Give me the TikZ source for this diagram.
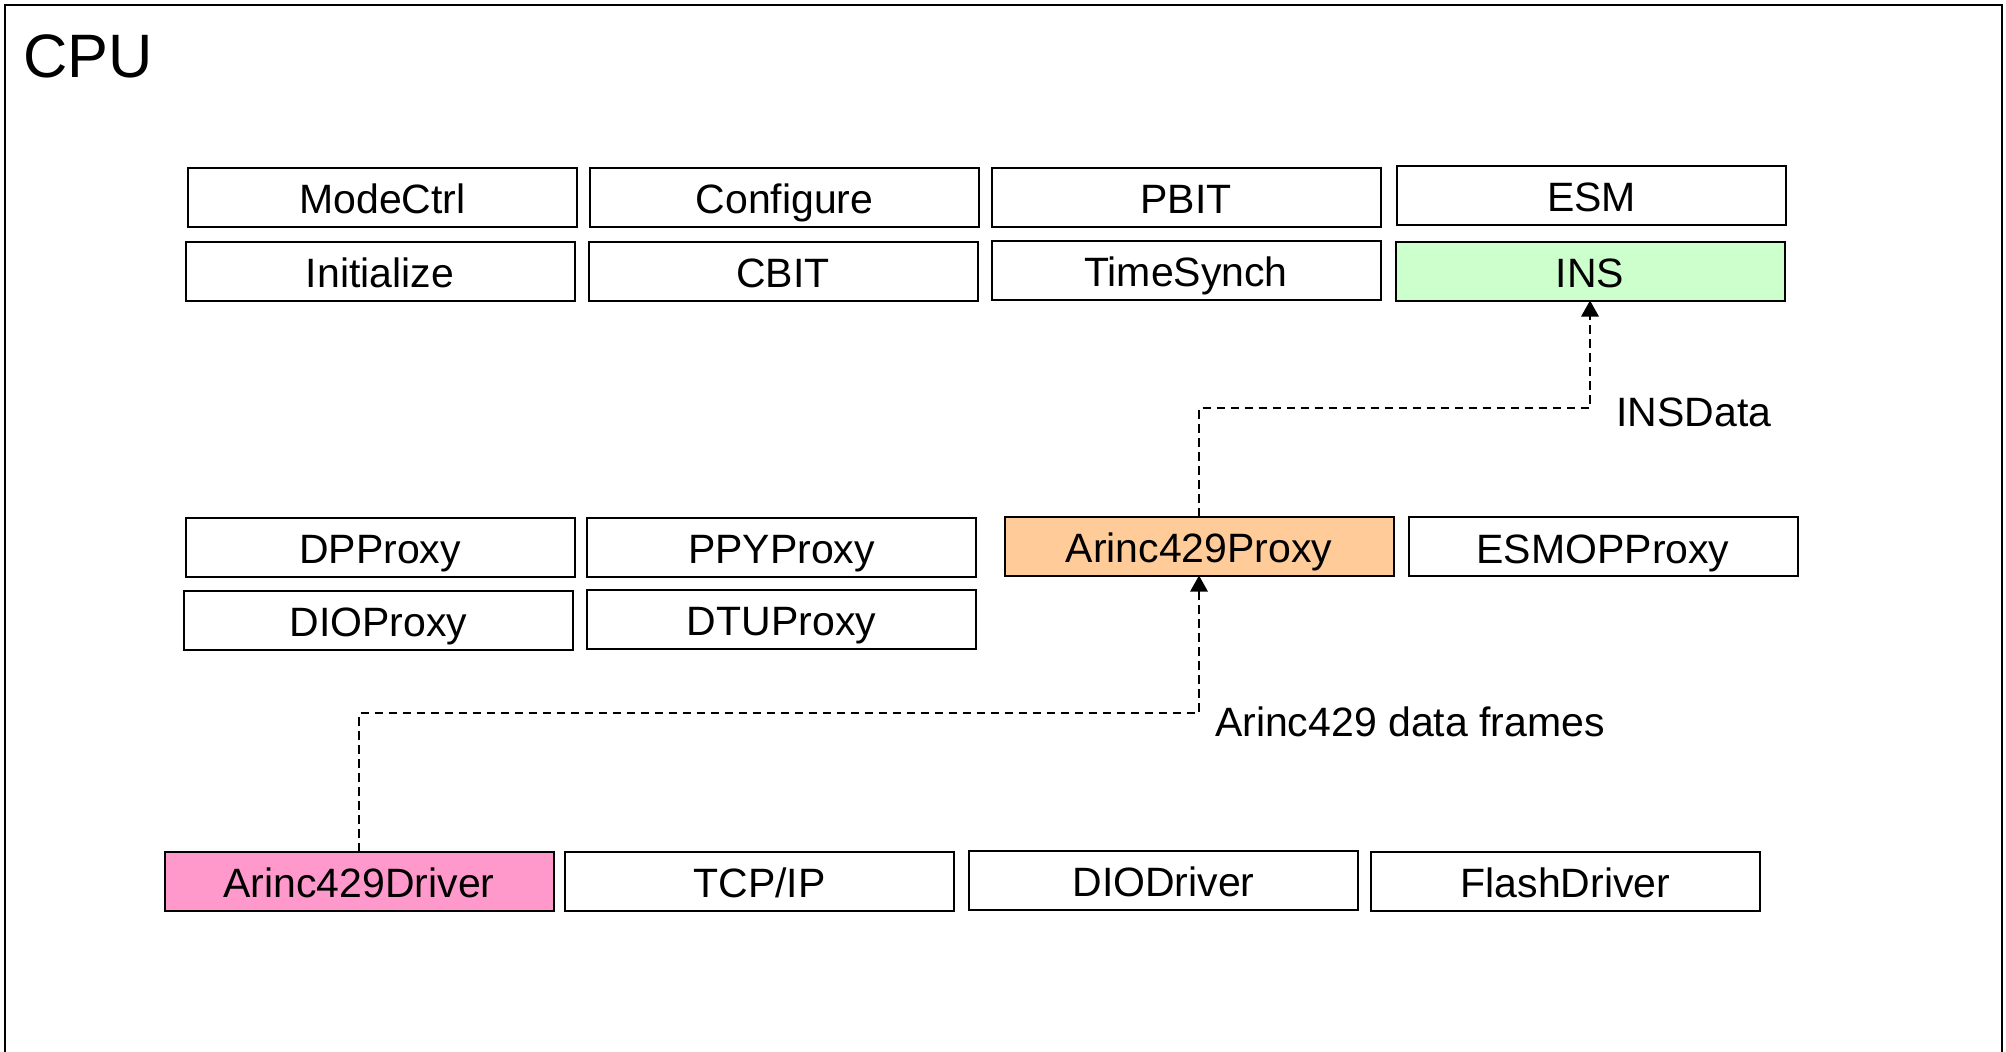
\documentclass[tikz,border=0pt]{standalone}
\usepackage{fontspec}
\setmainfont{Liberation Sans}
\usetikzlibrary{arrows.meta}
\definecolor{insgreen}{HTML}{CCFFCC}
\definecolor{proxyorange}{HTML}{FFCC99}
\definecolor{driverpink}{HTML}{FF99CC}
\tikzset{
  module/.style={draw=black, line width=1.5pt, fill=white, inner sep=0pt, outer sep=0pt,
    minimum width=291.75pt, minimum height=44.25pt,
    font=\fontsize{30.75}{36}\selectfont, text height=24.6pt, text depth=0pt},
  lbl/.style={inner sep=0pt, anchor=base west, font=\fontsize{30.75}{36}\selectfont},
  flow/.style={line width=1.5pt, dash pattern=on 6.5pt off 4pt,
    -{Triangle[length=12pt,width=13pt]}}
}
\begin{document}
\begin{tikzpicture}[x=0.75pt, y=-0.75pt]
\useasboundingbox (0,0) rectangle (2006,1051);
\clip (0,0) rectangle (2006,1051);
% processor frame
\draw[line width=1.5pt] (5,5) rectangle (2002,1080);
\node[inner sep=0pt, anchor=base west, font=\fontsize{46}{52}\selectfont] (cpu) at (23,77.3) {CPU};

% application layer
\node[module] (modectrl) at (382.5,197.5) {ModeCtrl};
\node[module] (configure) at (784.5,197.5) {Configure};
\node[module] (pbit) at (1186,197.5) {PBIT};
\node[module] (esm) at (1591.5,195.5) {ESM};
\node[module] (initialize) at (380,271.3) {Initialize};
\node[module] (cbit) at (783,271.3) {CBIT};
\node[module] (timesynch) at (1186,270.5) {TimeSynch};
\node[module, fill=insgreen] (ins) at (1590,271) {INS};

% proxy layer
\node[module] (dpproxy) at (380,547.5) {DPProxy};
\node[module] (ppyproxy) at (781.5,547.5) {PPYProxy};
\node[module, fill=proxyorange] (arproxy) at (1199,546) {Arinc429Proxy};
\node[module] (esmopproxy) at (1603,546.7) {ESMOPProxy};
\node[module] (dioproxy) at (378.5,620.5) {DIOProxy};
\node[module] (dtuproxy) at (781.5,619.3) {DTUProxy};

% driver layer
\node[module, fill=driverpink] (ardriver) at (359,881) {Arinc429Driver};
\node[module] (tcpip) at (759.5,881) {TCP/IP};
\node[module] (diodriver) at (1163.5,880.5) {DIODriver};
\node[module] (flashdriver) at (1565.5,881) {FlashDriver};

% data flows
\coordinate (bendlow) at (0,713);
\coordinate (bendhigh) at (0,408);
\draw[flow] (ardriver.north) -- (ardriver.north |- bendlow) -| (arproxy.south);
\draw[flow] (arproxy.north) -- (arproxy.north |- bendhigh) -| (ins.south);
\node[lbl] (framelbl) at (1214.8,736) {Arinc429 data frames};
\node[lbl] (inslbl) at (1616,426.7) {INSData};
\end{tikzpicture}
\end{document}
